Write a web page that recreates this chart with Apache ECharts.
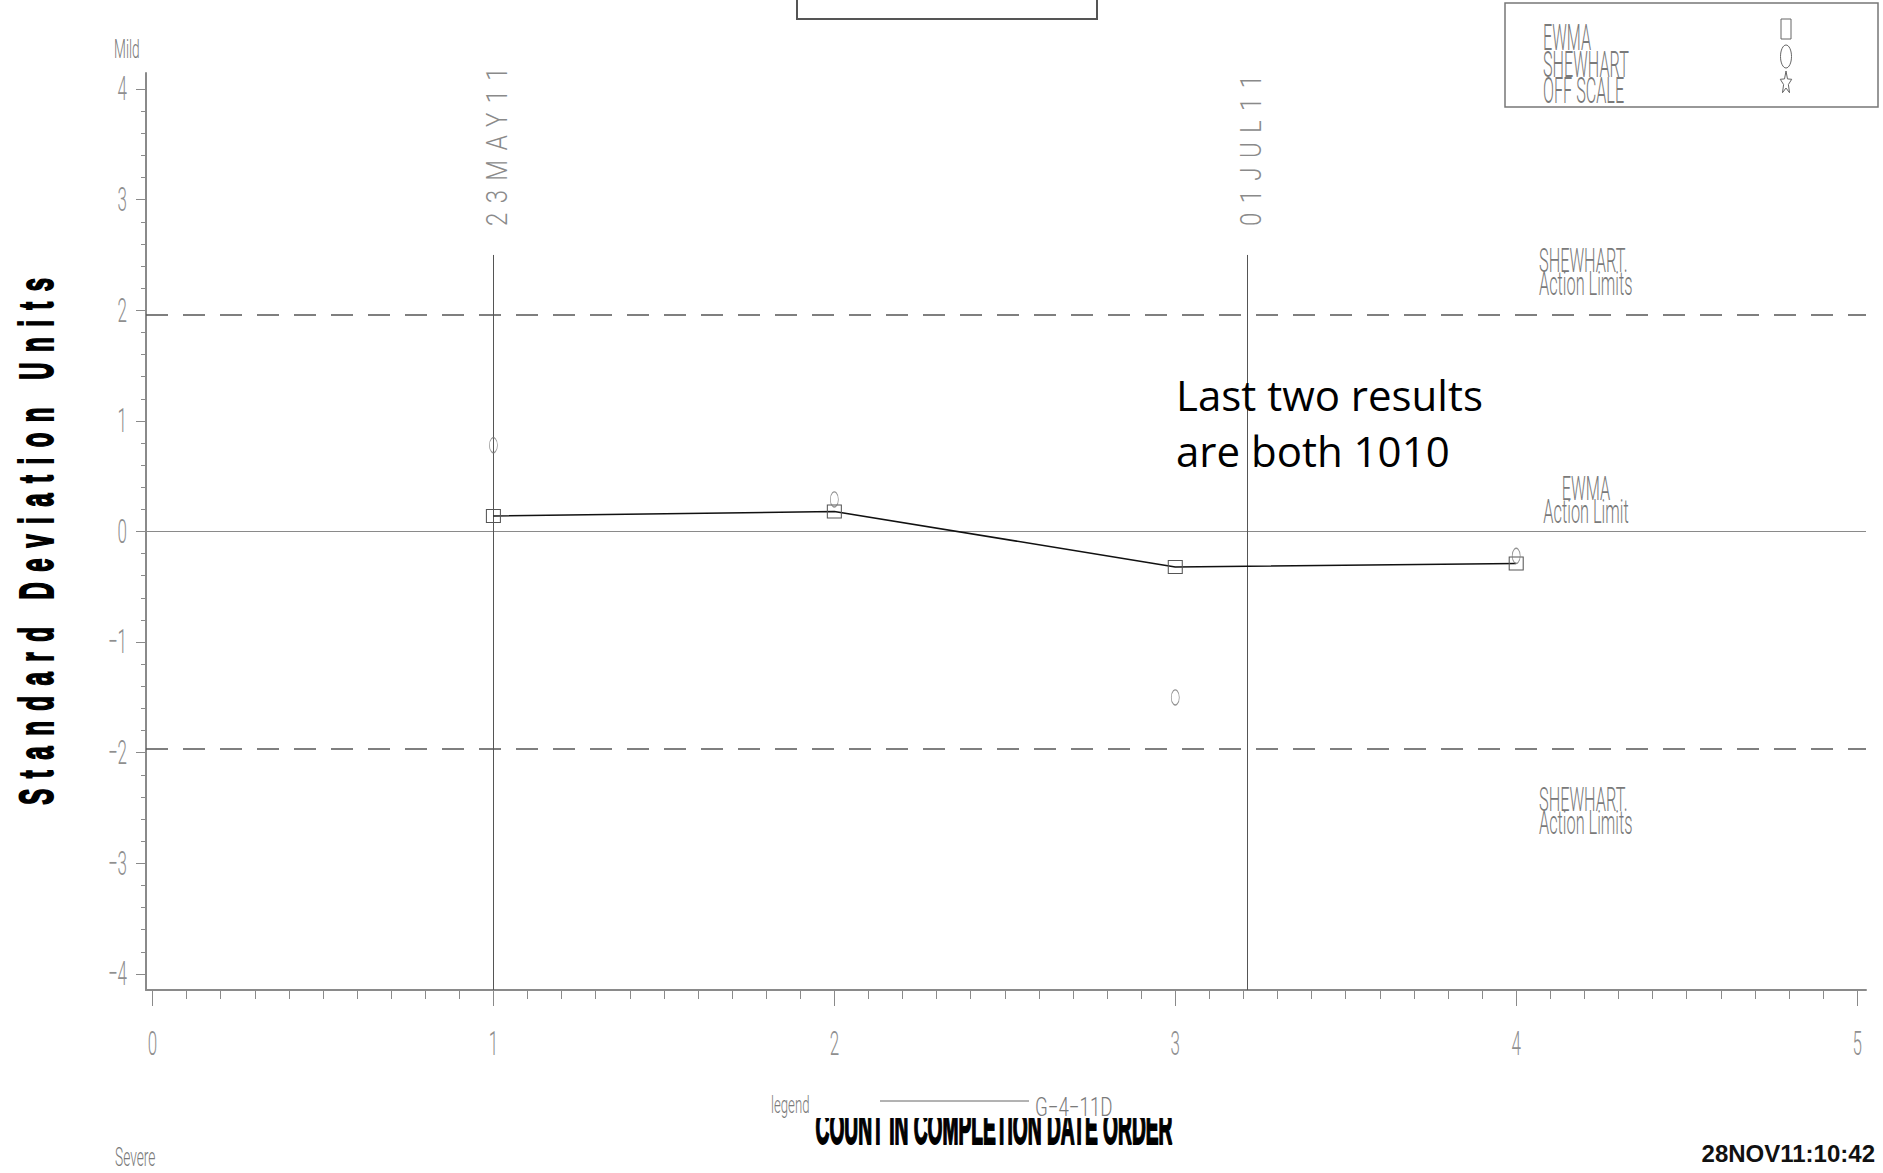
<!DOCTYPE html>
<html>
<head>
<meta charset="utf-8">
<script src="https://cdn.jsdelivr.net/npm/echarts@6/dist/echarts.min.js"></script>
<style>
  html, body { margin: 0; padding: 0; background: #fff; }
  #chart { width: 1883px; height: 1173px; }
</style>
</head>
<body>
<div id="chart"></div>
<script>
// Sample order (count in completion-date order) and standardised results
const samples = [1, 2, 3, 4];
const ewmaValues = [0.14, 0.18, -0.32, -0.29];
const shewhartValues = [0.78, 0.29, -1.50, -0.22];
const offScaleValues = [];

// Control limits in standard deviation units
const shewhartLimit = 1.96;
const ewmaLimit = 0;

// Calendar markers placed along the sample order
const dateMarkers = [1, 3.21];
const dateLabels = ['23MAY11', '01JUL11'];

// Tick labels
const xTickLabels = [0, 1, 2, 3, 4, 5];
const yTickLabels = [-4, -3, -2, -1, 0, 1, 2, 3, 4];

// ---- layout / style constants ----
const X_MIN = -0.019, X_MAX = 5.026;
const Y_MIN = -4.145, Y_MAX = 4.145;
const DATE_LINE_TOP = 2.5;

const xMinorTicks = [];
for (let i = 0; i <= 50; i++) if (i % 10) xMinorTicks.push(i / 10);
const yMinorTicks = [];
for (let i = -20; i <= 20; i++) if (i % 5) yMinorTicks.push(i / 5);

const THIN_FONT = "Roboto,Lato,'Noto Sans',sans-serif";
const BOLD_FONT = "'Liberation Sans',Arial,sans-serif";
const GREY = '#7a7a7a';

const chart = echarts.init(document.getElementById('chart'), null, { renderer: 'svg' });

const minus = v => String(v).replace('-', '\u2212');

const option = {
  animation: false,
  backgroundColor: '#fff',
  grid: { left: 146, right: 17, top: 73, bottom: 183, containLabel: false },
  xAxis: [
    {
      type: 'value', gridIndex: 0, position: 'bottom', min: X_MIN, max: X_MAX,
      axisLine: { show: true, onZero: false, lineStyle: { color: '#8a8a8a', width: 2 } },
      axisTick: { show: true, inside: false, length: 16, customValues: xTickLabels, lineStyle: { color: '#8a8a8a', width: 1 } },
      axisLabel: { show: true, customValues: xTickLabels, margin: 37, fontSize: 34, fontWeight: 300, fontFamily: THIN_FONT, color: '#8f8f8f' },
      splitLine: { show: false }
    },
    {
      type: 'value', gridIndex: 0, position: 'bottom', min: X_MIN, max: X_MAX,
      axisLine: { show: false, onZero: false },
      axisTick: { show: true, inside: false, length: 9, customValues: xMinorTicks, lineStyle: { color: '#8a8a8a', width: 1 } },
      axisLabel: { show: false },
      splitLine: { show: false }
    }
  ],
  yAxis: [
    {
      type: 'value', gridIndex: 0, position: 'left', min: Y_MIN, max: Y_MAX,
      axisLine: { show: true, onZero: false, lineStyle: { color: '#8a8a8a', width: 2 } },
      axisTick: { show: true, inside: false, length: 10, customValues: yTickLabels, lineStyle: { color: '#8a8a8a', width: 1 } },
      axisLabel: { show: true, customValues: yTickLabels, margin: 19, formatter: minus, fontSize: 34, fontWeight: 300, fontFamily: THIN_FONT, color: '#8f8f8f' },
      splitLine: { show: false }
    },
    {
      type: 'value', gridIndex: 0, position: 'left', min: Y_MIN, max: Y_MAX,
      axisLine: { show: false, onZero: false },
      axisTick: { show: true, inside: false, length: 5, customValues: yMinorTicks, lineStyle: { color: '#8a8a8a', width: 1 } },
      axisLabel: { show: false },
      splitLine: { show: false }
    }
  ],
  series: [
    {
      name: 'EWMA',
      type: 'line',
      xAxisIndex: 0, yAxisIndex: 0,
      data: samples.map((x, i) => [x, ewmaValues[i]]),
      symbol: 'rect',
      symbolSize: [14, 13],
      lineStyle: { color: '#111', width: 1.5 },
      itemStyle: { color: 'rgba(0,0,0,0)', borderColor: '#555', borderWidth: 1 },
      silent: true,
      z: 5,
      markLine: {
        silent: true,
        symbol: 'none',
        animation: false,
        label: { show: false },
        data: [
          { yAxis: shewhartLimit, lineStyle: { type: [22, 15], color: '#555', width: 1.5 } },
          { yAxis: -shewhartLimit, lineStyle: { type: [22, 15], color: '#555', width: 1.5 } },
          { yAxis: ewmaLimit, lineStyle: { type: 'solid', color: '#8a8a8a', width: 1 } },
          ...dateMarkers.map(x => [
            { coord: [x, Y_MIN], lineStyle: { type: 'solid', color: '#555', width: 1 } },
            { coord: [x, DATE_LINE_TOP] }
          ])
        ]
      }
    },
    {
      name: 'SHEWHART',
      type: 'scatter',
      xAxisIndex: 0, yAxisIndex: 0,
      data: samples.map((x, i) => [x, shewhartValues[i]]),
      symbol: 'circle',
      symbolSize: [8, 15],
      itemStyle: { color: 'rgba(0,0,0,0)', borderColor: '#777', borderWidth: 1 },
      silent: true,
      z: 6
    },
    {
      name: 'OFF SCALE',
      type: 'scatter',
      xAxisIndex: 0, yAxisIndex: 0,
      data: offScaleValues,
      symbol: 'triangle',
      symbolSize: [10, 20],
      itemStyle: { color: 'rgba(0,0,0,0)', borderColor: '#777', borderWidth: 1 },
      silent: true
    }
  ]
};

chart.setOption(option);

// ---- annotation text and frames ----
function txt(text, x, y, o) {
  const align = o.align || 'left';
  const valign = o.valign || 'middle';
  const style = {
    text,
    fill: o.fill || GREY,
    fontSize: o.size,
    fontFamily: o.family || THIN_FONT,
    fontWeight: o.weight || 300,
    lineHeight: o.lineHeight,
    align, verticalAlign: valign,
    textAlign: align, textVerticalAlign: valign
  };
  if (o.stroke) { style.stroke = o.stroke; style.lineWidth = o.strokeWidth || 1; }
  return {
    type: 'text', x, y, silent: true, z: o.z || 10,
    rotation: o.rotation || 0,
    scaleX: o.scaleX || 1,
    style
  };
}

function starPoints(cx, cy, rx, ry) {
  const pts = [];
  for (let k = 0; k < 10; k++) {
    const a = -Math.PI / 2 + k * Math.PI / 5;
    const r = k % 2 ? 0.42 : 1;
    pts.push([cx + rx * r * Math.cos(a), cy + ry * r * Math.sin(a)]);
  }
  return pts;
}

const toPx = (x, y) => chart.convertToPixel({ xAxisIndex: 0, yAxisIndex: 0 }, [x, y]);
const yUpper = toPx(0, shewhartLimit)[1];
const yLower = toPx(0, -shewhartLimit)[1];
const yEwma = toPx(0, ewmaLimit)[1];

const graphics = [
  // title frame at the top edge
  { type: 'rect', silent: true, shape: { x: 797, y: -10, width: 300, height: 29 },
    style: { fill: 'none', stroke: '#555', lineWidth: 2 } },
  // symbol key
  { type: 'rect', silent: true, shape: { x: 1505, y: 3, width: 373, height: 104 },
    style: { fill: 'none', stroke: '#777', lineWidth: 1.5 } },
  txt('EWMA', 1543, 37.7, { size: 36, scaleX: 0.45 }),
  txt('SHEWHART', 1543, 64.7, { size: 36, scaleX: 0.45 }),
  txt('OFF SCALE', 1543, 90.7, { size: 36, scaleX: 0.45 }),
  { type: 'rect', silent: true, shape: { x: 1781, y: 19, width: 10, height: 20 },
    style: { fill: 'none', stroke: '#666', lineWidth: 1 } },
  { type: 'ellipse', silent: true, shape: { cx: 1786, cy: 56.5, rx: 5.5, ry: 11.5 },
    style: { fill: 'none', stroke: '#666', lineWidth: 1 } },
  { type: 'polygon', silent: true, shape: { points: starPoints(1786, 83, 6, 12) },
    style: { fill: 'none', stroke: '#666', lineWidth: 1 } },

  // severity scale ends
  txt('Mild', 114, 49, { size: 25, scaleX: 0.55 }),
  txt('Severe', 115, 1157, { size: 25, scaleX: 0.55 }),

  // axis titles
  txt('Standard Deviation Units', 37, 536, { size: 48, family: BOLD_FONT, weight: 'bold', fill: '#000',
    stroke: '#000', strokeWidth: 2, rotation: Math.PI / 2, align: 'center', scaleX: 0.5 }),
  txt('COUNT IN COMPLETION DATE ORDER', 994, 1128, { size: 48, family: BOLD_FONT, weight: 'bold', fill: '#000',
    stroke: '#000', strokeWidth: 2, align: 'center', scaleX: 0.4, z: 10 }),
  { type: 'rect', silent: true, z: 11, shape: { x: 780, y: 1080, width: 420, height: 38 },
    style: { fill: '#fff', stroke: 'none' } },
  txt('legend', 771, 1104.8, { size: 24, scaleX: 0.55, z: 12 }),
  { type: 'line', silent: true, z: 12, shape: { x1: 880, y1: 1101, x2: 1029, y2: 1101 },
    style: { stroke: '#666', lineWidth: 1 } },
  txt('G\u22124\u221211D', 1035, 1107, { size: 26, scaleX: 0.72, z: 12 }),
  txt('28NOV11:10:42', 1875, 1153.7, { size: 24, family: BOLD_FONT, weight: 'bold', fill: '#111', align: 'right' }),

  // limit captions
  txt('SHEWHART.\nAction Limits', 1539, yUpper - 20, { size: 34, scaleX: 0.48, lineHeight: 23, valign: 'bottom' }),
  txt('SHEWHART.\nAction Limits', 1539, yLower + 39.5, { size: 34, scaleX: 0.48, lineHeight: 23, valign: 'top' }),
  txt('EWMA\nAction Limit', 1586, yEwma - 8.6, { size: 34, scaleX: 0.48, lineHeight: 23, valign: 'bottom', align: 'center' }),

  // note
  txt('Last two results\nare both 1010', 1176, 366, { size: 42, family: "'Open Sans',Lato,sans-serif", weight: 'normal',
    fill: '#000', lineHeight: 56, valign: 'top' })
];

// date captions above the calendar marker lines
dateMarkers.forEach((x, i) => {
  const p = toPx(x, DATE_LINE_TOP);
  graphics.push(txt(dateLabels[i], p[0] + 4, p[1] - 29, { size: 30, scaleX: 0.8, fill: '#8a8a8a',
    rotation: Math.PI / 2, align: 'left', valign: 'middle' }));
});

chart.setOption({ graphic: { elements: graphics } });

// tracking of the spaced captions, and narrow tick numerals
const spacing = { 'Standard Deviation Units': 21 };
dateLabels.forEach(l => { spacing[l] = 11.7; });
const tickTexts = new Set(
  xTickLabels.map(String).concat(yTickLabels.map(minus), yTickLabels.map(String))
);
const TICK_SCALE = 0.5;

function restyleText() {
  document.querySelectorAll('#chart text').forEach(t => {
    const content = t.textContent;
    const s = spacing[content];
    if (s != null) t.setAttribute('letter-spacing', s);
    if (tickTexts.has(content)) {
      const current = t.getAttribute('transform') || '';
      if (t.dataset.narrow === current && current !== '') return;
      const base = current;
      const x = parseFloat(t.getAttribute('x') || 0);
      const next = (base + ` translate(${x} 0) scale(${TICK_SCALE} 1) translate(${-x} 0)`).trim();
      t.dataset.narrow = next;
      t.setAttribute('transform', next);
    }
  });
}
restyleText();
chart.on('finished', restyleText);
setTimeout(restyleText, 50);
</script>
</body>
</html>
